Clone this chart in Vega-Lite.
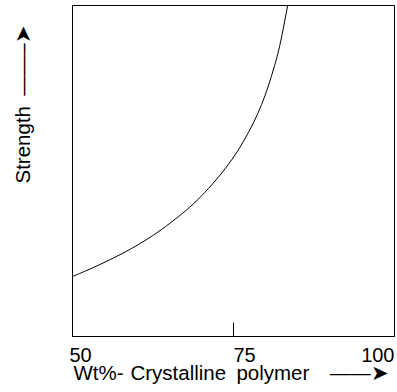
{
  "$schema": "https://vega.github.io/schema/vega-lite/v6.json",
  "width": 322,
  "height": 331,
  "autosize": {"type": "none"},
  "padding": {"left": 72, "top": 5, "right": 3, "bottom": 56},
  "background": "white",
  "config": {
    "view": {"stroke": "black", "strokeWidth": 1},
    "font": "Liberation Sans"
  },
  "data": {
    "values": [
      {"wt": 50.0, "strength": 17.9},
      {"wt": 52.8, "strength": 20.2},
      {"wt": 55.9, "strength": 23.0},
      {"wt": 59.3, "strength": 26.4},
      {"wt": 62.6, "strength": 30.3},
      {"wt": 65.2, "strength": 34.0},
      {"wt": 67.8, "strength": 38.0},
      {"wt": 69.9, "strength": 41.8},
      {"wt": 72.5, "strength": 47.3},
      {"wt": 75.0, "strength": 53.6},
      {"wt": 76.6, "strength": 58.6},
      {"wt": 78.2, "strength": 64.3},
      {"wt": 79.5, "strength": 70.0},
      {"wt": 80.5, "strength": 75.5},
      {"wt": 81.4, "strength": 81.2},
      {"wt": 82.3, "strength": 87.5},
      {"wt": 83.5, "strength": 100}
    ]
  },
  "mark": {"type": "line", "color": "black", "strokeWidth": 1, "interpolate": "basis", "clip": true},
  "encoding": {
    "x": {
      "field": "wt",
      "type": "quantitative",
      "scale": {"domain": [50, 100], "nice": false, "zero": false},
      "axis": {
        "values": [50, 75, 100],
        "domain": false,
        "grid": false,
        "ticks": true,
        "tickSize": -14,
        "tickColor": "black",
        "tickWidth": 1,
        "labelFontSize": 20,
        "labelColor": "black",
        "labelPadding": 23,
        "labelFont": "Liberation Sans",
        "labelAlign": {"condition": {"test": "datum.value == 100", "value": "right"}, "value": "left"},
        "labelOffset": {"condition": {"test": "datum.value == 50", "value": -3}, "value": 0},
        "labelBound": false,
        "labelOverlap": false,
        "title": "Wt%-\u2004Crystalline\u2002polymer\u2003\u2014\u2014\u27a4",
        "titleFont": "Liberation Sans",
        "titleFontSize": 20.5,
        "titleFontWeight": "normal",
        "titleColor": "black",
        "titleAlign": "left",
        "titleAnchor": "start",
        "titleBaseline": "alphabetic",
        "titleX": 1,
        "titleY": 43
      }
    },
    "y": {
      "field": "strength",
      "type": "quantitative",
      "scale": {"domain": [0, 100], "nice": false},
      "axis": {
        "labels": false,
        "ticks": false,
        "domain": false,
        "grid": false,
        "title": "Strength\u2002\u2014\u2014\u2013\u27a4",
        "titleFont": "Liberation Sans",
        "titleFontSize": 20.5,
        "titleFontWeight": "normal",
        "titleColor": "black",
        "titleAngle": 270,
        "titleAlign": "left",
        "titleBaseline": "alphabetic",
        "titleX": -42.5,
        "titleY": 178
      }
    }
  }
}
